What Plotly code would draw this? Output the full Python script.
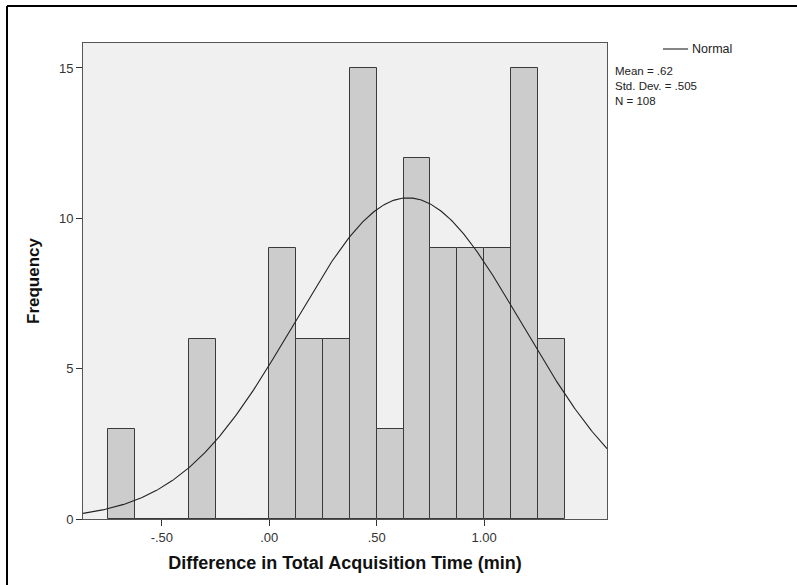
import numpy as np
import plotly.graph_objects as go

# Data
bin_left_edges = [-0.75, -0.625, -0.5, -0.375, -0.25, -0.125, 0.0, 0.125, 0.25, 0.375,
                  0.5, 0.625, 0.75, 0.875, 1.0, 1.125, 1.25]
frequencies = [3, 0, 0, 6, 0, 0, 9, 6, 6, 15, 3, 12, 9, 9, 9, 15, 6]
bin_width = 0.125

stat_labels = ["Mean = .62", "Std. Dev. = .505", "N = 108"]

# Normal curve as it appears in the picture (peak height, centre, spread)
curve_peak = 10.68
curve_center = 0.645
curve_spread = 0.532

x_tick_vals = [-0.5, 0.0, 0.5, 1.0]
x_tick_text = ["-.50", ".00", ".50", "1.00"]
y_tick_vals = [0, 5, 10, 15]

x_range = [-0.867, 1.572]
y_range = [0, 15.83]

centers = [e + bin_width / 2 for e in bin_left_edges]

xs = np.linspace(x_range[0], x_range[1], 400)
ys = curve_peak * np.exp(-0.5 * ((xs - curve_center) / curve_spread) ** 2)

fig = go.Figure()
fig.add_trace(go.Bar(
    x=centers, y=frequencies, width=bin_width,
    marker=dict(color="#cccccc", line=dict(color="#3a3a3a", width=1)),
    showlegend=False, hoverinfo="skip"))
fig.add_trace(go.Scatter(
    x=xs, y=ys, mode="lines", line=dict(color="#222222", width=1.1),
    showlegend=False, hoverinfo="skip"))

font_family = "Liberation Sans, Arial, sans-serif"

L, R, T, B = 83, 190, 43, 66
W, H = 797, 585
pw = W - L - R
ph = H - T - B

def px(x):
    return (x - L) / pw

def py(y):
    return (H - B - y) / ph

shapes = [
    dict(type="line", xref="paper", yref="paper", x0=px(7), x1=px(800), y0=py(6), y1=py(6),
         line=dict(color="black", width=2)),
    dict(type="line", xref="paper", yref="paper", x0=px(7), x1=px(7), y0=py(6), y1=py(590),
         line=dict(color="black", width=2)),
    dict(type="line", xref="paper", yref="paper", x0=px(663), x1=px(688), y0=py(49), y1=py(49),
         line=dict(color="#222222", width=1.1)),
]

annotations = [
    dict(text="Normal", xref="paper", yref="paper", x=px(690), y=py(49), xanchor="left", yanchor="middle",
         showarrow=False, font=dict(family=font_family, size=12.5, color="#222222")),
    dict(text="<br>".join(stat_labels), xref="paper", yref="paper", x=px(614), y=py(64),
         xanchor="left", yanchor="top", align="left", showarrow=False, borderpad=0,
         font=dict(family=font_family, size=11.5, color="#222222")),
]

fig.update_layout(
    width=W, height=H,
    margin=dict(l=L, r=R, t=T, b=B),
    paper_bgcolor="white", plot_bgcolor="#f0f0f0",
    bargap=0,
    shapes=shapes, annotations=annotations,
    font=dict(family=font_family, color="#333333"),
    xaxis=dict(range=x_range, tickvals=x_tick_vals, ticktext=x_tick_text,
               showgrid=False, zeroline=False, showline=True, mirror=True,
               linecolor="#555555", linewidth=1, ticks="outside", ticklen=6,
               tickcolor="#333333", tickfont=dict(size=13, color="#333333"),
               title=dict(text="<b>Difference in Total Acquisition Time (min)</b>",
                          font=dict(size=18, color="#111111"), standoff=12)),
    yaxis=dict(range=y_range, tickvals=y_tick_vals,
               showgrid=False, zeroline=False, showline=True, mirror=True,
               linecolor="#555555", linewidth=1, ticks="outside", ticklen=6,
               tickcolor="#333333", tickfont=dict(size=13, color="#333333"),
               title=dict(text="<b>Frequency</b>", font=dict(size=17, color="#111111"), standoff=14)),
)

fig.write_html("out.html")
